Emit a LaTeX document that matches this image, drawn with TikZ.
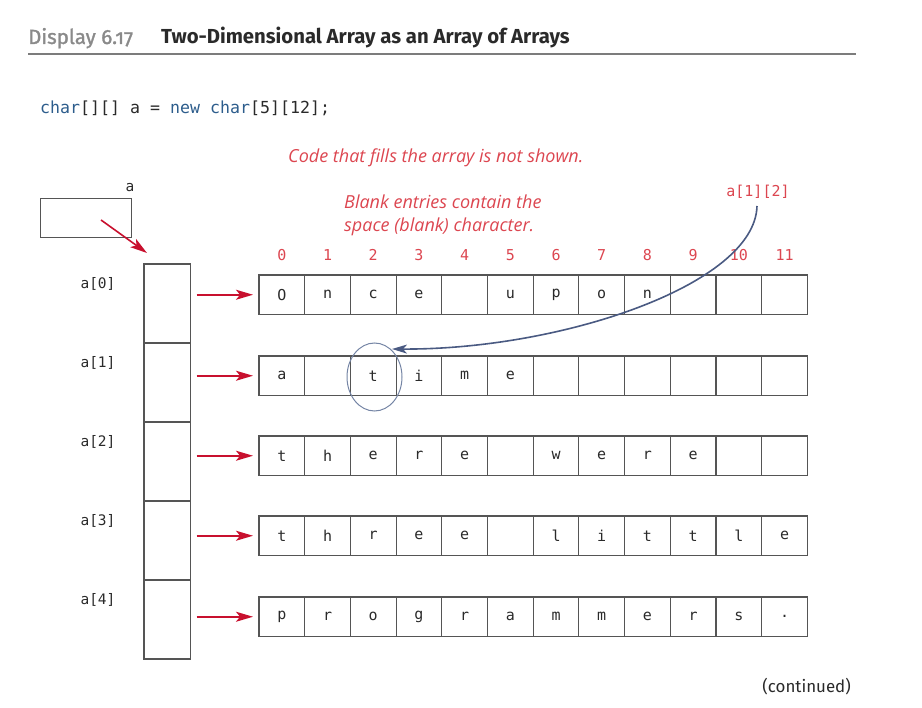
\documentclass[tikz,border=0pt]{standalone}
\usepackage{fontspec}
\usetikzlibrary{arrows.meta,shapes.geometric}
\newfontfamily\monof{DejaVu Sans Mono}
\newfontfamily\titlef{Fira Sans}
\newfontfamily\notef{Open Sans}
\definecolor{boxgray}{HTML}{555555}
\definecolor{txtdark}{HTML}{2A2A2A}
\definecolor{arrred}{HTML}{C8102E}
\definecolor{notered}{HTML}{DC4650}
\definecolor{codeblue}{HTML}{2D5D8C}
\definecolor{curveblue}{HTML}{4A5A82}
\definecolor{ellblue}{HTML}{7585A5}
\definecolor{titlegray}{HTML}{8A8A8A}
\tikzset{
  cellbox/.style={draw=boxgray, line width=1.1pt, minimum width=45.7pt, minimum height=39.5pt,
    inner sep=0pt, outer sep=0pt, text=txtdark, font=\monof\fontsize{15}{17}\selectfont},
  ptrbox/.style={draw=boxgray, line width=1.1pt, minimum width=46.7pt, minimum height=79pt,
    inner sep=0pt, outer sep=0pt},
  redarrow/.style={draw=arrred, line width=1.6pt, -{Stealth[length=17pt,width=10pt,inset=4pt]}},
  idxlab/.style={text=notered, font=\monof\fontsize{15}{17}\selectfont, inner sep=0pt},
  rowlab/.style={text=txtdark, font=\monof\fontsize{14.5}{16}\selectfont, inner sep=0pt},
  notetext/.style={text=notered, font=\notef\itshape\fontsize{18}{23}\selectfont, inner sep=0pt},
}
\newcommand\cellrow[3]{%
  \foreach \ch [count=\c from 0] in {#3}{%
    \node[cellbox] (r#1c\c) at ({259+45.7*\c+22.85},{#2+19.75}) {\ch};}}
\begin{document}
\begin{tikzpicture}[x=1pt,y=-1pt]
\useasboundingbox (0,0) rectangle (922,708);
% title
\node[anchor=base west, inner sep=0pt, text=titlegray, font=\titlef\addfontfeatures{Numbers=OldStyle,FakeBold=1.5}\fontsize{20.5}{24}\selectfont] (disp) at (28,44) {Display 6.17};
\node[anchor=base west, inner sep=0pt, text=txtdark, font=\titlef\bfseries\fontsize{20.3}{24}\selectfont] (ttl) at (161,44) {Two-Dimensional Array as an Array of Arrays};
\coordinate (rl) at (28,54); \coordinate (rr) at (856,54);
\draw[line width=1.6pt, draw=titlegray!90!black] (rl) -- (rr);
% code
\node[anchor=base west, inner sep=0pt, text=txtdark, font=\monof\fontsize{16.6}{18}\selectfont] (code) at (40,114)
  {\textcolor{codeblue}{char}[][] a = \textcolor{codeblue}{new char}[5][12];};
% notes
\node[notetext, anchor=base west] (note1) at (288,163) {Code that fills the array is not shown.};
\node[notetext, anchor=base west] (note2a) at (344,209) {Blank entries contain the};
\node[notetext, anchor=base west] (note2b) at (344,232) {space (blank) character.};
% a box
\node[draw=boxgray, line width=1.1pt, minimum width=91pt, minimum height=39pt, inner sep=0pt, outer sep=0pt] (abox) at (86.2,218.4) {};
\node[rowlab, anchor=base] (alab) at (130,192) {a};
% pointer column
\foreach \i/\t in {0/264,1/343,2/422,3/501,4/580}{
  \node[ptrbox] (p\i) at (167.3,{\t+39.5}) {};
  \node[rowlab] (l\i) at (98,{\t+20}) {a[\i]};
}
% rows
\cellrow{0}{275}{O,n,c,e,{},u,p,o,n,{},{},{}}
\cellrow{1}{356}{a,{},t,i,m,e,{},{},{},{},{},{}}
\cellrow{2}{436}{t,h,e,r,e,{},w,e,r,e,{},{}}
\cellrow{3}{516}{t,h,r,e,e,{},l,i,t,t,l,e}
\cellrow{4}{597}{p,r,o,g,r,a,m,m,e,r,s,.}
% index labels
\foreach \c in {0,...,11}{
  \node[idxlab] (ix\c) at ({259+45.7*\c+22.85},255) {\c};
}
% arrows
\coordinate (astart) at (101,220);
\coordinate (aend) at (147,253);
\draw[redarrow] (astart) -- (aend);
\foreach \i in {0,...,4}{
  \draw[redarrow, shorten <=6pt, shorten >=6pt] (p\i.east |- r\i c0.west) -- (r\i c0.west);
}
% ellipse and pointer
\node[draw=ellblue, line width=1pt, ellipse, minimum width=55pt, minimum height=68pt, inner sep=0pt] (ell) at (374.5,377) {};
\node[idxlab, text=notered] (elab) at (758,192) {a[1][2]};
\coordinate (cstart) at (757,206);
\coordinate (ctip) at (392,349);
\draw[draw=curveblue, line width=1.6pt, -{Stealth[length=15pt,width=9pt,inset=4pt]}]
  (cstart) .. controls (755,285) and (560,350) .. (ctip);
% continued
\node[anchor=base east, inner sep=0pt, text=txtdark, font=\titlef\fontsize{16.9}{20}\selectfont] (cont) at (851,692) {(continued)};
\end{tikzpicture}
\end{document}
